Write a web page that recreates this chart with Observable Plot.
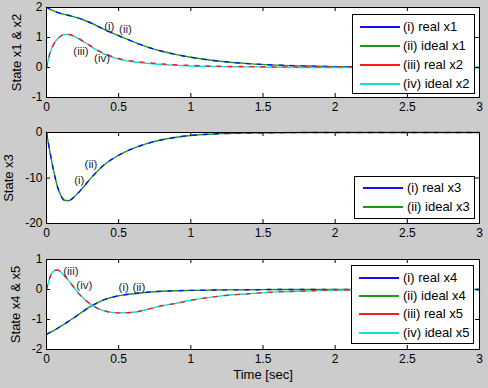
<!DOCTYPE html>
<html><head><meta charset="utf-8">
<script src="https://cdn.jsdelivr.net/npm/d3@7"></script>
<script src="https://cdn.jsdelivr.net/npm/@observablehq/plot@0.6"></script>
<style>
body{margin:0;background:#cccccc;}
#root{position:relative;width:488px;height:388px;background:#cccccc;font-family:"Liberation Sans",Arial,sans-serif;font-size:13px;overflow:hidden;}
.p{position:absolute;left:0;}
.leg{position:absolute;background:#fff;border:1px solid #000;box-sizing:border-box;}
.row{position:absolute;left:0;right:0;height:16px;white-space:nowrap;}
.row .tx{position:absolute;top:0;line-height:16px;font-size:13px;color:#000;}
.row .ln{position:absolute;top:7px;height:1.5px;}
</style></head>
<body><div id="root"></div>
<script>
// time grid (sec)
const t = [0, 0.025, 0.05, 0.075, 0.1, 0.125, 0.15, 0.2, 0.25, 0.3, 0.35, 0.4, 0.5, 0.6, 0.7, 0.8, 0.9, 1.0, 1.2, 1.4, 1.6, 1.8, 2.0, 2.5, 3.0];
// subplot 1
const x1Real  = [2.0, 1.94, 1.89, 1.84, 1.8, 1.77, 1.74, 1.68, 1.6, 1.5, 1.39, 1.27, 1.06, 0.86, 0.68, 0.54, 0.43, 0.34, 0.21, 0.13, 0.08, 0.05, 0.03, 0.01, 0.0];
const x1Ideal = [2.0, 1.94, 1.89, 1.84, 1.8, 1.77, 1.74, 1.68, 1.6, 1.5, 1.39, 1.27, 1.06, 0.86, 0.68, 0.54, 0.43, 0.34, 0.21, 0.13, 0.08, 0.05, 0.03, 0.01, 0.0];
const x2Real  = [0.0, 0.5, 0.78, 0.95, 1.05, 1.1, 1.1, 1.03, 0.89, 0.74, 0.59, 0.47, 0.3, 0.21, 0.16, 0.12, 0.09, 0.07, 0.04, 0.03, 0.02, 0.02, 0.02, 0.01, 0.01];
const x2Ideal = [0.0, 0.5, 0.78, 0.95, 1.05, 1.1, 1.1, 1.02, 0.88, 0.72, 0.57, 0.45, 0.28, 0.19, 0.14, 0.1, 0.07, 0.05, 0.03, 0.02, 0.01, 0.0, 0.0, 0.0, 0.0];
// subplot 2
const x3Real  = [0, -4.5, -8.5, -11.8, -13.9, -14.9, -15.0, -13.9, -12.2, -10.3, -8.6, -7.1, -5.0, -3.5, -2.4, -1.6, -1.05, -0.65, -0.25, -0.1, -0.04, -0.01, 0, 0, 0];
const x3Ideal = [0, -4.5, -8.5, -11.8, -13.9, -14.9, -15.0, -13.9, -12.2, -10.3, -8.6, -7.1, -5.0, -3.5, -2.4, -1.6, -1.05, -0.65, -0.25, -0.1, -0.04, -0.01, 0, 0, 0];
// subplot 3
const x4Real  = [-1.5, -1.43, -1.37, -1.3, -1.22, -1.15, -1.07, -0.91, -0.74, -0.58, -0.45, -0.34, -0.21, -0.14, -0.09, -0.06, -0.04, -0.03, -0.015, -0.01, 0, 0, 0, 0, 0];
const x4Ideal = [-1.5, -1.43, -1.37, -1.3, -1.22, -1.15, -1.07, -0.91, -0.74, -0.58, -0.45, -0.34, -0.21, -0.14, -0.09, -0.06, -0.04, -0.03, -0.015, -0.01, 0, 0, 0, 0, 0];
const x5Real  = [0, 0.42, 0.62, 0.65, 0.58, 0.45, 0.32, 0.0, -0.27, -0.47, -0.62, -0.71, -0.78, -0.76, -0.66, -0.54, -0.46, -0.36, -0.22, -0.14, -0.08, -0.05, -0.02, -0.01, 0];
const x5Ideal = [0, 0.42, 0.62, 0.65, 0.58, 0.45, 0.32, 0.0, -0.27, -0.47, -0.62, -0.71, -0.78, -0.76, -0.66, -0.54, -0.46, -0.36, -0.22, -0.14, -0.08, -0.05, -0.02, -0.01, 0];

const xTicks = [0, 0.5, 1, 1.5, 2, 2.5, 3];
const yTicks1 = [-1, 0, 1, 2];
const yTicks2 = [-20, -10, 0];
const yTicks3 = [-2, -1, 0, 1];

const labels1 = [{t:0.435,v:1.36,s:"(i)"},{t:0.547,v:1.28,s:"(ii)"},{t:0.239,v:0.55,s:"(iii)"},{t:0.385,v:0.31,s:"(iv)"}];
const labels2 = [{t:0.308,v:-7.0,s:"(ii)"},{t:0.227,v:-10.6,s:"(i)"}];
const labels3 = [{t:0.169,v:0.59,s:"(iii)"},{t:0.262,v:0.13,s:"(iv)"},{t:0.535,v:0.08,s:"(i)"},{t:0.64,v:0.08,s:"(ii)"}];

const C = {blue:"#1010ff", green:"#1a9a1a", red:"#ff1a1a", cyan:"#10dede"};

const series = (arr) => t.map((tt,i)=>({t:tt, v:arr[i]}));

function panel({top, height, mb, yDomain, yTicks, ylabel, ylabelDx, pairs, labels, xlabel}) {
  const W = 488, ml = 46, mr = 9, mt = 7;
  const iw = W - ml - mr, ih = height - mt - mb;
  const marks = [
    Plot.frame({fill:"white", stroke:"none"}),
  ];
  for (const [real, ideal, cr, ci] of pairs) {
    marks.push(Plot.line(series(ideal), {x:"t", y:"v", stroke:ci, strokeWidth:1.4, curve:"monotone-x"}));
    marks.push(Plot.line(series(real), {x:"t", y:"v", stroke:cr, strokeWidth:1.4, curve:"monotone-x", strokeDasharray:"4,7"}));
  }
  marks.push(
    Plot.frame({stroke:"black", strokeWidth:1}),
    Plot.tickX(xTicks, {x:d=>d, insetTop: ih-4, stroke:"black"}),
    Plot.tickX(xTicks, {x:d=>d, insetBottom: ih-4, stroke:"black"}),
    Plot.tickY(yTicks, {y:d=>d, insetRight: iw-4, stroke:"black"}),
    Plot.tickY(yTicks, {y:d=>d, insetLeft: iw-4, stroke:"black"}),
    Plot.axisX({ticks:xTicks, tickSize:0, tickPadding:5, tickFormat:d=>String(d), label:null, fontSize:12}),
    Plot.axisY({ticks:yTicks, tickSize:0, tickPadding:4, tickFormat:d=>String(d), label:null, fontSize:12}),
    Plot.text([ylabel], {frameAnchor:"left", textAnchor:"middle", dx:ylabelDx, rotate:-90, fontSize:13, fill:"black"}),
    Plot.text(labels, {x:"t", y:"v", text:"s", fontSize:11.5, fill:"#222233"})
  );
  if (xlabel) marks.push(Plot.text([xlabel], {frameAnchor:"bottom", textAnchor:"middle", dy:29, fontSize:13, fill:"black"}));
  const p = Plot.plot({
    width: W, height, marginLeft: ml, marginRight: mr, marginTop: mt, marginBottom: mb,
    x: {domain:[0,3]}, y: {domain:yDomain},
    style: {background:"transparent", fontFamily:'"Liberation Sans", Arial, sans-serif', fontSize:"12px", color:"black"},
    marks
  });
  p.classList.add("p");
  p.style.top = top + "px";
  document.getElementById("root").appendChild(p);
}

function legend(left, top, w, h, rows, lineX, textX) {
  const d = document.createElement("div");
  d.className = "leg";
  Object.assign(d.style, {left:left+"px", top:top+"px", width:w+"px", height:h+"px"});
  for (const r of rows) {
    const row = document.createElement("div");
    row.className = "row";
    row.style.top = (r.y - 8) + "px";
    const ln = document.createElement("div");
    ln.className = "ln";
    ln.style.left = lineX[0] + "px";
    ln.style.width = (lineX[1]-lineX[0]) + "px";
    ln.style.background = r.c;
    const sp = document.createElement("div");
    sp.className = "tx";
    sp.style.left = textX + "px";
    sp.textContent = r.s;
    row.appendChild(ln); row.appendChild(sp);
    d.appendChild(row);
  }
  document.getElementById("root").appendChild(d);
}

panel({top:0, height:125, mb:28, yDomain:[-1,2], yTicks:yTicks1, ylabel:"State x1 & x2", ylabelDx:-30,
  pairs:[[x1Real,x1Ideal,C.blue,C.green],[x2Real,x2Ideal,C.red,C.cyan]], labels:labels1});
panel({top:125, height:125, mb:27, yDomain:[-20,0], yTicks:yTicks2, ylabel:"State x3", ylabelDx:-37.5,
  pairs:[[x3Real,x3Ideal,C.blue,C.green]], labels:labels2});
panel({top:252, height:136, mb:39, yDomain:[-2,1], yTicks:yTicks3, ylabel:"State x4 & x5", ylabelDx:-31,
  pairs:[[x4Real,x4Ideal,C.blue,C.green],[x5Real,x5Ideal,C.red,C.cyan]], labels:labels3, xlabel:"Time [sec]"});

legend(352, 14, 123, 80, [
  {y:12, c:C.blue, s:"(i) real x1"},
  {y:31, c:C.green, s:"(ii) ideal x1"},
  {y:50, c:C.red, s:"(iii) real x2"},
  {y:69, c:C.cyan, s:"(iv) ideal x2"}], [7,47], 50);
legend(354, 176, 121, 43, [
  {y:11, c:C.blue, s:"(i) real x3"},
  {y:30, c:C.green, s:"(ii) ideal x3"}], [8,48], 52);
legend(351, 265, 123, 79, [
  {y:12, c:C.blue, s:"(i) real x4"},
  {y:30, c:C.green, s:"(ii) ideal x4"},
  {y:48, c:C.red, s:"(iii) real x5"},
  {y:67, c:C.cyan, s:"(iv) ideal x5"}], [7,47], 51);
</script></body></html>
